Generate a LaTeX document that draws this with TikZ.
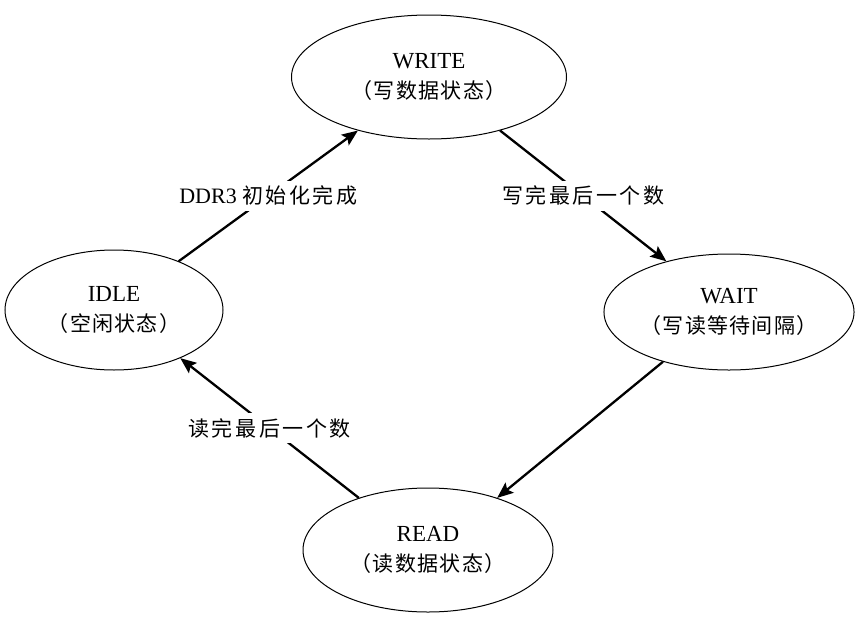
\documentclass[tikz,border=0pt]{standalone}
\usepackage{fontspec}
\setmainfont{Liberation Serif}
\newfontfamily\cjk[LetterSpace=6]{Noto Sans CJK SC}
\newfontfamily\cjklbl[LetterSpace=12]{Noto Sans CJK SC}
\usetikzlibrary{shapes.geometric, arrows.meta}

\begin{document}
\begin{tikzpicture}[x=1pt, y=-1pt,
		st/.style={ellipse, draw, line width=1pt, inner sep=0pt, align=center,
			font=\fontsize{23}{30}\selectfont},
		trans/.style={-{Stealth[length=16pt, width=13pt, inset=3pt]}, line width=2.3pt},
		lbl/.style={fill=white, inner sep=5pt, font=\fontsize{22}{24}\selectfont}]
			\useasboundingbox (0, 0) rectangle (865, 627);
			
			\node[st, minimum width=275, minimum height=124] (write) at (429, 77)
				{WRITE\\{\cjk\fontsize{21}{24}\selectfont （写数据状态）}};
			\node[st, minimum width=218, minimum height=120] (idle) at (114, 310)
				{IDLE\\{\cjk\fontsize{21}{24}\selectfont （空闲状态）}};
			\node[st, minimum width=248, minimum height=116] (wait) at (729, 312)
				{WAIT\\{\cjk\fontsize{21}{24}\selectfont （写读等待间隔）}};
			\node[st, minimum width=250, minimum height=124] (read) at (428, 550)
				{READ\\{\cjk\fontsize{21}{24}\selectfont （读数据状态）}};
			
			\draw[trans] (idle.37) -- node[lbl] {DDR3 {\cjklbl\fontsize{21}{24}\selectfont 初始化完成}} (write.217);
			\draw[trans] (write.-37) -- node[lbl] {\cjklbl\fontsize{21}{24}\selectfont 写完最后一个数} (wait.141);
			\draw[trans] (wait.217) -- (read.37);
			\draw[trans] (read.143) -- node[lbl] {\cjklbl\fontsize{21}{24}\selectfont 读完最后一个数} (idle.-36);
		\end{tikzpicture}
\end{document}
